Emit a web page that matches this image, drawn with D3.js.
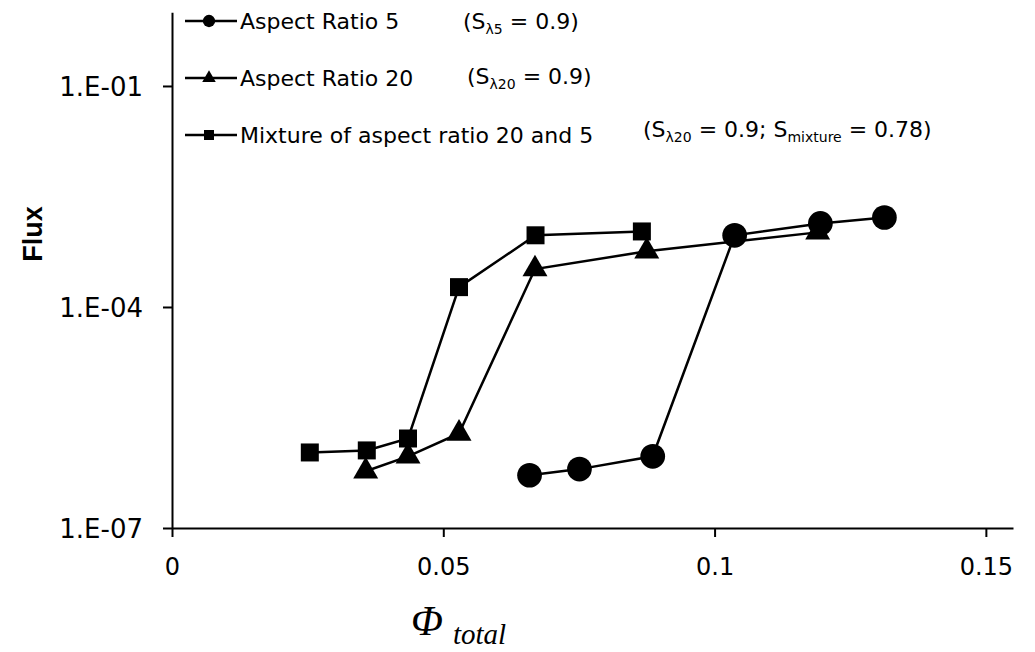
<!DOCTYPE html>
<html>
<head>
<meta charset="utf-8">
<script src="https://cdn.jsdelivr.net/npm/d3@7"></script>
<style>
  body { margin: 0; background: #fff; }
  svg { display: block; }
  text { font-family: "DejaVu Sans", Arial, sans-serif; fill: #000; }
</style>
</head>
<body>
<div id="graph"></div>
<script>
/* values */
const ratio5Phi = [0.0659, 0.0751, 0.0886, 0.1037, 0.1195, 0.1313];
const ratio5Flux = [5.2e-7, 6.3e-7, 9.4e-7, 9.4e-4, 1.36e-3, 1.64e-3];

const ratio20Phi = [0.0357, 0.0435, 0.0529, 0.0669, 0.0875, 0.119];
const ratio20Flux = [5.9e-7, 9.4e-7, 1.92e-6, 3.27e-4, 5.7e-4, 1.03e-3];

const mixPhi = [0.0254, 0.0359, 0.0435, 0.0529, 0.0670, 0.0866];
const mixFlux = [1.06e-6, 1.13e-6, 1.64e-6, 1.86e-4, 9.4e-4, 1.06e-3];

const xTicks = [0, 0.05, 0.1, 0.15];
const xTickLabels = ["0", "0.05", "0.1", "0.15"];
const yTicks = [1e-7, 1e-4, 1e-1];
const yTickLabels = ["1.E-07", "1.E-04", "1.E-01"];

const seriesNames = ["Aspect Ratio 5", "Aspect Ratio 20", "Mixture of aspect ratio 20 and 5"];

window.addEventListener("DOMContentLoaded", main)

function main() {
    const W = 1035, H = 652;
    const svg = d3.select("#graph").append("svg").attr("width", W).attr("height", H)

    /* scales */
    const x = d3.scaleLinear().domain([0, 0.155]).range([172, 1013]);
    const y = d3.scaleLog().domain([1e-7, 1]).range([528, 12.3]);

    /* X axis */
    const xAxis = d3.axisBottom(x)
        .tickValues(xTicks)
        .tickSize(9)
        .tickSizeOuter(0)
        .tickFormat((d, i) => xTickLabels[i]);
    const gx = svg.append("g")
        .attr("transform", "translate(0," + y(1e-7) + ")")
        .call(xAxis);
    gx.selectAll("text")
        .attr("y", 47)
        .attr("dy", 0)
        .style("font-size", "24px")
        .style("font-family", "DejaVu Sans, Arial, sans-serif");

    /* Y axis */
    const yAxis = d3.axisLeft(y)
        .tickValues(yTicks)
        .tickSize(9)
        .tickSizeOuter(0)
        .tickFormat((d, i) => yTickLabels[i]);
    const gy = svg.append("g")
        .attr("transform", "translate(" + x(0) + ",0)")
        .call(yAxis);
    gy.selectAll("text")
        .attr("x", -29)
        .attr("dy", "0.36em")
        .style("font-size", "26px")
        .style("font-family", "DejaVu Sans, Arial, sans-serif");

    svg.selectAll(".domain, .tick line")
        .attr("stroke", "#000")
        .attr("stroke-width", 2);

    /* axis titles */
    svg.append("text")
        .attr("transform", "translate(42,234) rotate(-90)")
        .attr("text-anchor", "middle")
        .style("font-family", "Liberation Sans, Arial, sans-serif")
        .style("font-size", "27px")
        .style("font-weight", "bold")
        .text("Flux");

    const xt = svg.append("text")
        .attr("x", 411)
        .attr("y", 635)
        .style("font-family", "Liberation Serif, Times New Roman, serif")
        .style("font-style", "italic");
    xt.append("tspan").style("font-size", "42px").text("Φ");
    xt.append("tspan").attr("dx", 10).attr("dy", 9).style("font-size", "29px").text("total");

    /* markers */
    const circle = d3.symbol().type(d3.symbolCircle);
    const tri = d3.symbol().type(d3.symbolTriangle);
    const sq = d3.symbol().type(d3.symbolSquare);

    const series = [
        { name: seriesNames[0], phi: ratio5Phi, flux: ratio5Flux, sym: circle, size: 480, legendSize: 120 },
        { name: seriesNames[1], phi: ratio20Phi, flux: ratio20Flux, sym: tri, size: 270, legendSize: 80 },
        { name: seriesNames[2], phi: mixPhi, flux: mixFlux, sym: sq, size: 324, legendSize: 100 }
    ];

    const line = d3.line().x(d => x(d[0])).y(d => y(d[1]));

    series.forEach(s => {
        const pts = s.phi.map((p, i) => [p, s.flux[i]]);
        svg.append("path")
            .datum(pts)
            .attr("d", line)
            .attr("fill", "none")
            .attr("stroke", "#000")
            .attr("stroke-width", 2.5);
        svg.selectAll(null)
            .data(pts)
            .enter()
            .append("path")
            .attr("d", s.sym.size(s.size))
            .attr("transform", d => "translate(" + x(d[0]) + "," + y(d[1]) + ")")
            .attr("fill", "#000");
    });

    /* Legend */
    const rowY = [21, 78, 135];
    const legend = svg.append("g");
    series.forEach((s, i) => {
        const g = legend.append("g").attr("transform", "translate(0," + rowY[i] + ")");
        g.append("line")
            .attr("x1", 185).attr("x2", 237)
            .attr("stroke", "#000").attr("stroke-width", 2.5);
        g.append("path")
            .attr("d", s.sym.size(s.legendSize))
            .attr("transform", "translate(209,0)");
        g.append("text")
            .attr("x", 240)
            .attr("y", 8)
            .style("font-size", "22px")
            .text(s.name);
    });

    function note(xp, yp, parts) {
        const t = legend.append("text").attr("x", xp).attr("y", yp).style("font-size", "22px");
        parts.forEach(p => {
            if (p.sub) {
                t.append("tspan").attr("dy", 5).style("font-size", "14px").text(p.sub);
            } else {
                t.append("tspan").attr("dy", p.back ? -5 : 0).text(p.text);
            }
        });
    }
    note(463, rowY[0] + 8, [{ text: "(S" }, { sub: "λ5" }, { text: " = 0.9)", back: true }]);
    note(467, rowY[1] + 6, [{ text: "(S" }, { sub: "λ20" }, { text: " = 0.9)", back: true }]);
    note(643, rowY[2] + 2, [{ text: "(S" }, { sub: "λ20" }, { text: " = 0.9; S", back: true },
        { sub: "mixture" }, { text: " = 0.78)", back: true }]);
}
</script>
</body>
</html>
